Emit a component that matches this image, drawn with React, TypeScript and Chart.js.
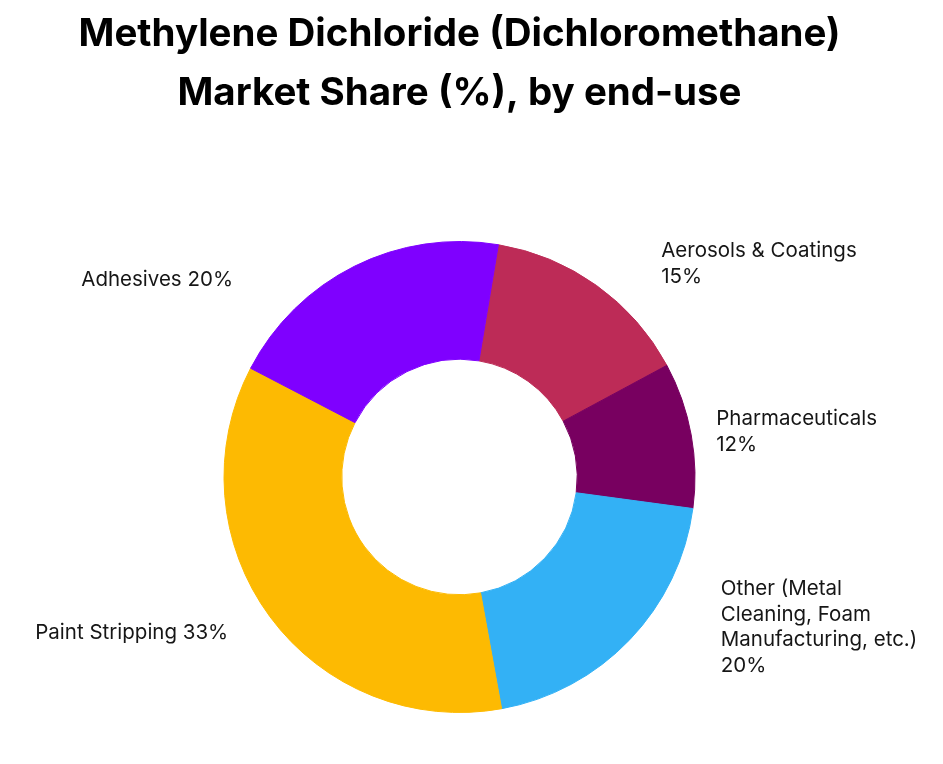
import { useEffect, useRef } from 'react';
import { Chart, registerables, Plugin } from 'chart.js';

Chart.register(...registerables);

// End-use categories, clockwise from the top
const categories = [
  'Aerosols & Coatings',
  'Pharmaceuticals',
  'Other (Metal\nCleaning, Foam\nManufacturing, etc.)',
  'Paint Stripping',
  'Adhesives',
];
// Shares as printed on the labels
const shareLabels = ['15%', '12%', '20%', '33%', '20%'];
// Slice sizes as drawn in the picture
const sliceValues = [14.5, 10, 20, 35.5, 20];
const sliceColors = ['#BD2B57', '#780060', '#33B1F5', '#FDBA02', '#7F00FF'];

const titleLines = ['Methylene Dichloride (Dichloromethane)', 'Market Share (%), by end-use'];

interface LabelOpts {
  family: string;
  size: number;
  color: string;
  lineHeight: number;
  nudge: [number, number][];
}

// Draws the slice names outside the ring, anchored on each arc's outer mid point
const outsideLabels: Plugin<'doughnut'> = {
  id: 'outsideLabels',
  afterDatasetsDraw(chart, _args, opts: any) {
    const o = opts as LabelOpts;
    const ctx = chart.ctx;
    const meta = chart.getDatasetMeta(0);
    ctx.save();
    ctx.font = `${o.size}px ${o.family}`;
    ctx.fillStyle = o.color;
    ctx.textBaseline = 'alphabetic';
    meta.data.forEach((el, i) => {
      const { x, y, startAngle, endAngle, outerRadius } = (el as any).getProps(
        ['x', 'y', 'startAngle', 'endAngle', 'outerRadius'],
        true
      );
      const mid = (startAngle + endAngle) / 2;
      const ax = x + Math.cos(mid) * outerRadius;
      const ay = y + Math.sin(mid) * outerRadius;
      const right = Math.cos(mid) >= 0;
      const [dx, dy] = o.nudge[i] || [0, 0];
      const lines = right
        ? [...categories[i].split('\n'), shareLabels[i]]
        : [`${categories[i]} ${shareLabels[i]}`];
      ctx.textAlign = right ? 'left' : 'right';
      lines.forEach((line, j) => {
        ctx.fillText(line, ax + dx, ay + dy + j * o.lineHeight);
      });
    });
    ctx.restore();
  },
};

const App: React.FC = () => {
  const canvasRef = useRef<HTMLCanvasElement>(null);
  const chartRef = useRef<Chart<'doughnut'> | null>(null);

  useEffect(() => {
    if (!canvasRef.current) return;
    if (chartRef.current) {
      chartRef.current.destroy();
      chartRef.current = null;
    }

    chartRef.current = new Chart(canvasRef.current, {
      type: 'doughnut',
      data: {
        labels: categories.map(c => c.replace(/\n/g, ' ')),
        datasets: [
          {
            data: sliceValues,
            backgroundColor: sliceColors,
            borderColor: sliceColors,
            borderWidth: 1,
          },
        ],
      },
      options: {
        responsive: true,
        maintainAspectRatio: false,
        animation: false,
        events: [],
        rotation: 9.5,
        cutout: '50%',
        layout: {
          padding: { left: 0, right: 24, top: 0, bottom: 51 },
        },
        plugins: {
          legend: { display: false },
          tooltip: { enabled: false },
          title: {
            display: true,
            text: titleLines,
            color: '#000000',
            font: { family: 'Inter', size: 38.5, weight: 'bold', lineHeight: 59 / 38.5 },
            padding: { top: 5, bottom: 118 },
          },
          outsideLabels: {
            family: 'Inter',
            size: 20.5,
            color: '#161616',
            lineHeight: 25.5,
            nudge: [
              [64.6, -28.4],
              [25, -9.8],
              [91, -44.4],
              [-41.7, 22.3],
              [-121.4, 19.5],
            ],
          },
        } as any,
      },
      plugins: [outsideLabels],
    });

    return () => {
      if (chartRef.current) {
        chartRef.current.destroy();
        chartRef.current = null;
      }
    };
  }, []);

  return (
    <div style={{ position: 'absolute', left: 0, top: 0, width: 943, height: 764, background: '#ffffff' }}>
      <canvas ref={canvasRef}></canvas>
    </div>
  );
};

export default App;
